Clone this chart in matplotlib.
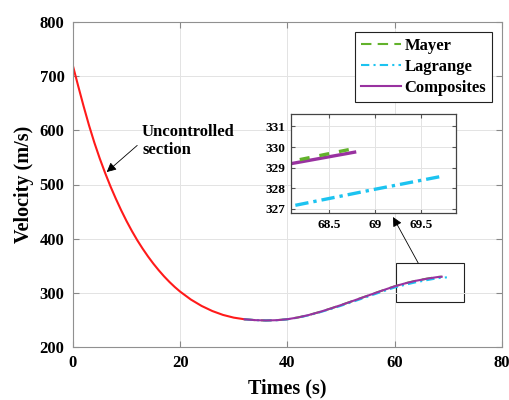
import numpy as np
import matplotlib.pyplot as plt
from matplotlib.patches import Rectangle

plt.rcParams['font.family'] = ['Liberation Serif', 'DejaVu Serif']
plt.rcParams['font.weight'] = 'bold'

# uncontrolled flight phase
t_free = [0, 1, 2, 3, 4, 5, 6, 7, 8, 9, 10, 11, 12, 13, 14, 15, 16, 17, 18, 19,
          20, 22, 24, 26, 28, 30, 32]
v_free = [719, 681.1, 644.2, 609.2, 577.2, 548.1, 521.4, 496.6, 473.8, 452.4,
          432.5, 414.1, 397.1, 381.6, 367.2, 353.9, 341.7, 330.4, 320.1, 310.7,
          302.2, 287.6, 275.8, 266.4, 259.2, 254.2, 251.2]

# controlled phase, three guidance laws
t_comp = [32, 34, 36, 38, 40, 42, 44, 46, 48, 50, 52, 54, 56, 58, 60, 62, 64,
          66, 67, 68, 68.78]
v_comp = [251.2, 249.6, 249.0, 249.5, 251.3, 254.6, 259.1, 264.6, 270.8, 277.4,
          284.3, 291.3, 298.3, 305.3, 312.0, 317.6, 322.3, 326.0, 327.6, 329.12,
          329.75]

t_mayer = [32, 34, 36, 38, 40, 42, 44, 46, 48, 50, 52, 54, 56, 58, 60, 62, 64,
           66, 67, 68, 68.8]
v_mayer = [251.2, 249.6, 249.0, 249.5, 251.3, 254.6, 259.1, 264.6, 270.8, 277.4,
           284.3, 291.3, 298.3, 305.3, 312.0, 317.7, 322.4, 326.2, 327.8, 329.22,
           329.95]

t_lag = [32, 34, 36, 38, 40, 42, 44, 46, 48, 50, 52, 54, 56, 58, 60, 62, 64,
         66, 67, 68, 69, 69.75]
v_lag = [251.2, 249.6, 249.0, 249.4, 251.1, 254.2, 258.6, 263.9, 269.8, 276.1,
         282.8, 289.6, 296.5, 303.3, 309.8, 315.0, 319.6, 323.4, 325.2, 327.05,
         327.95, 328.6]

c_red = '#ff1a1a'
c_green = '#62b22b'
c_cyan = '#1cc3f0'
c_purple = '#9932a0'

fig = plt.figure(figsize=(5.1, 4.0), dpi=100)
ax = fig.add_axes([0.143, 0.1325, 0.841, 0.8125])

ax.plot(t_free, v_free, color=c_red, lw=1.5)
ax.plot(t_mayer, v_mayer, color=c_green, lw=1.5, ls=(0, (5, 3)), label='Mayer')
ax.plot(t_lag, v_lag, color=c_cyan, lw=1.5, ls=(0, (4, 2, 1, 2)), label='Lagrange')
ax.plot(t_comp, v_comp, color=c_purple, lw=1.5, label='Composites')

ax.set_xlim(0, 80)
ax.set_ylim(200, 800)
ax.set_xticks([0, 20, 40, 60, 80])
ax.set_yticks([200, 300, 400, 500, 600, 700, 800])
ax.grid(True, color='#e3e3e3', lw=0.7)
ax.tick_params(direction='in', top=True, right=True, length=4, color='#888888',
               labelsize=12, pad=6)
for s in ax.spines.values():
    s.set_color('#909090')
    s.set_linewidth(0.8)
ax.set_xlabel('Times (s)', fontsize=14.5, fontweight='bold', labelpad=5)
ax.set_ylabel('Velocity (m/s)', fontsize=14.5, fontweight='bold', labelpad=4)

leg = ax.legend(loc='upper right', fontsize=12, handlelength=2.4,
                labelspacing=0.3, borderaxespad=0.6, handletextpad=0.2,
                borderpad=0.35, fancybox=False, framealpha=1)
leg.get_frame().set_edgecolor('#222222')
leg.get_frame().set_linewidth(0.8)

ax.annotate('Uncontrolled\nsection', xy=(6.3, 523), xytext=(12.9, 580),
            ha='left', va='center', fontsize=12, fontweight='bold',
            linespacing=1.15,
            arrowprops=dict(arrowstyle='-|>', color='black', lw=0.6,
                            mutation_scale=14, relpos=(0, 0.5), shrinkA=2,
                            shrinkB=0))

# zoom box and pointer to the inset
ax.add_patch(Rectangle((60.3, 283), 12.6, 72, fill=False, ec='#222222', lw=0.8))
ax.annotate('', xy=(0.7706, 0.4575), xycoords='figure fraction',
            xytext=(64.4, 355), textcoords='data',
            arrowprops=dict(arrowstyle='-|>', color='black', lw=0.6,
                            mutation_scale=14, shrinkA=0, shrinkB=0))

ins = fig.add_axes([0.5706, 0.4675, 0.3235, 0.2475])
ins.plot(t_comp, v_comp, color=c_purple, lw=2.4)
ins.plot(t_mayer, v_mayer, color=c_green, lw=2.4, ls=(0, (3, 3)))
ins.plot(t_lag, v_lag, color=c_cyan, lw=2.4, ls=(0, (4, 1.5, 1, 1.5)))
ins.set_xlim(68.09, 69.88)
ins.set_ylim(326.8, 331.6)
ins.set_xticks([68.5, 69, 69.5])
ins.set_xticklabels(['68.5', '69', '69.5'])
ins.set_yticks([327, 328, 329, 330, 331])
ins.grid(True, color='#e3e3e3', lw=0.7)
ins.tick_params(direction='in', top=True, right=True, length=3, color='#555555',
                labelsize=9.5, pad=4)
for s in ins.spines.values():
    s.set_color('#444444')
    s.set_linewidth(0.9)

fig.savefig('out.png', dpi=100)
